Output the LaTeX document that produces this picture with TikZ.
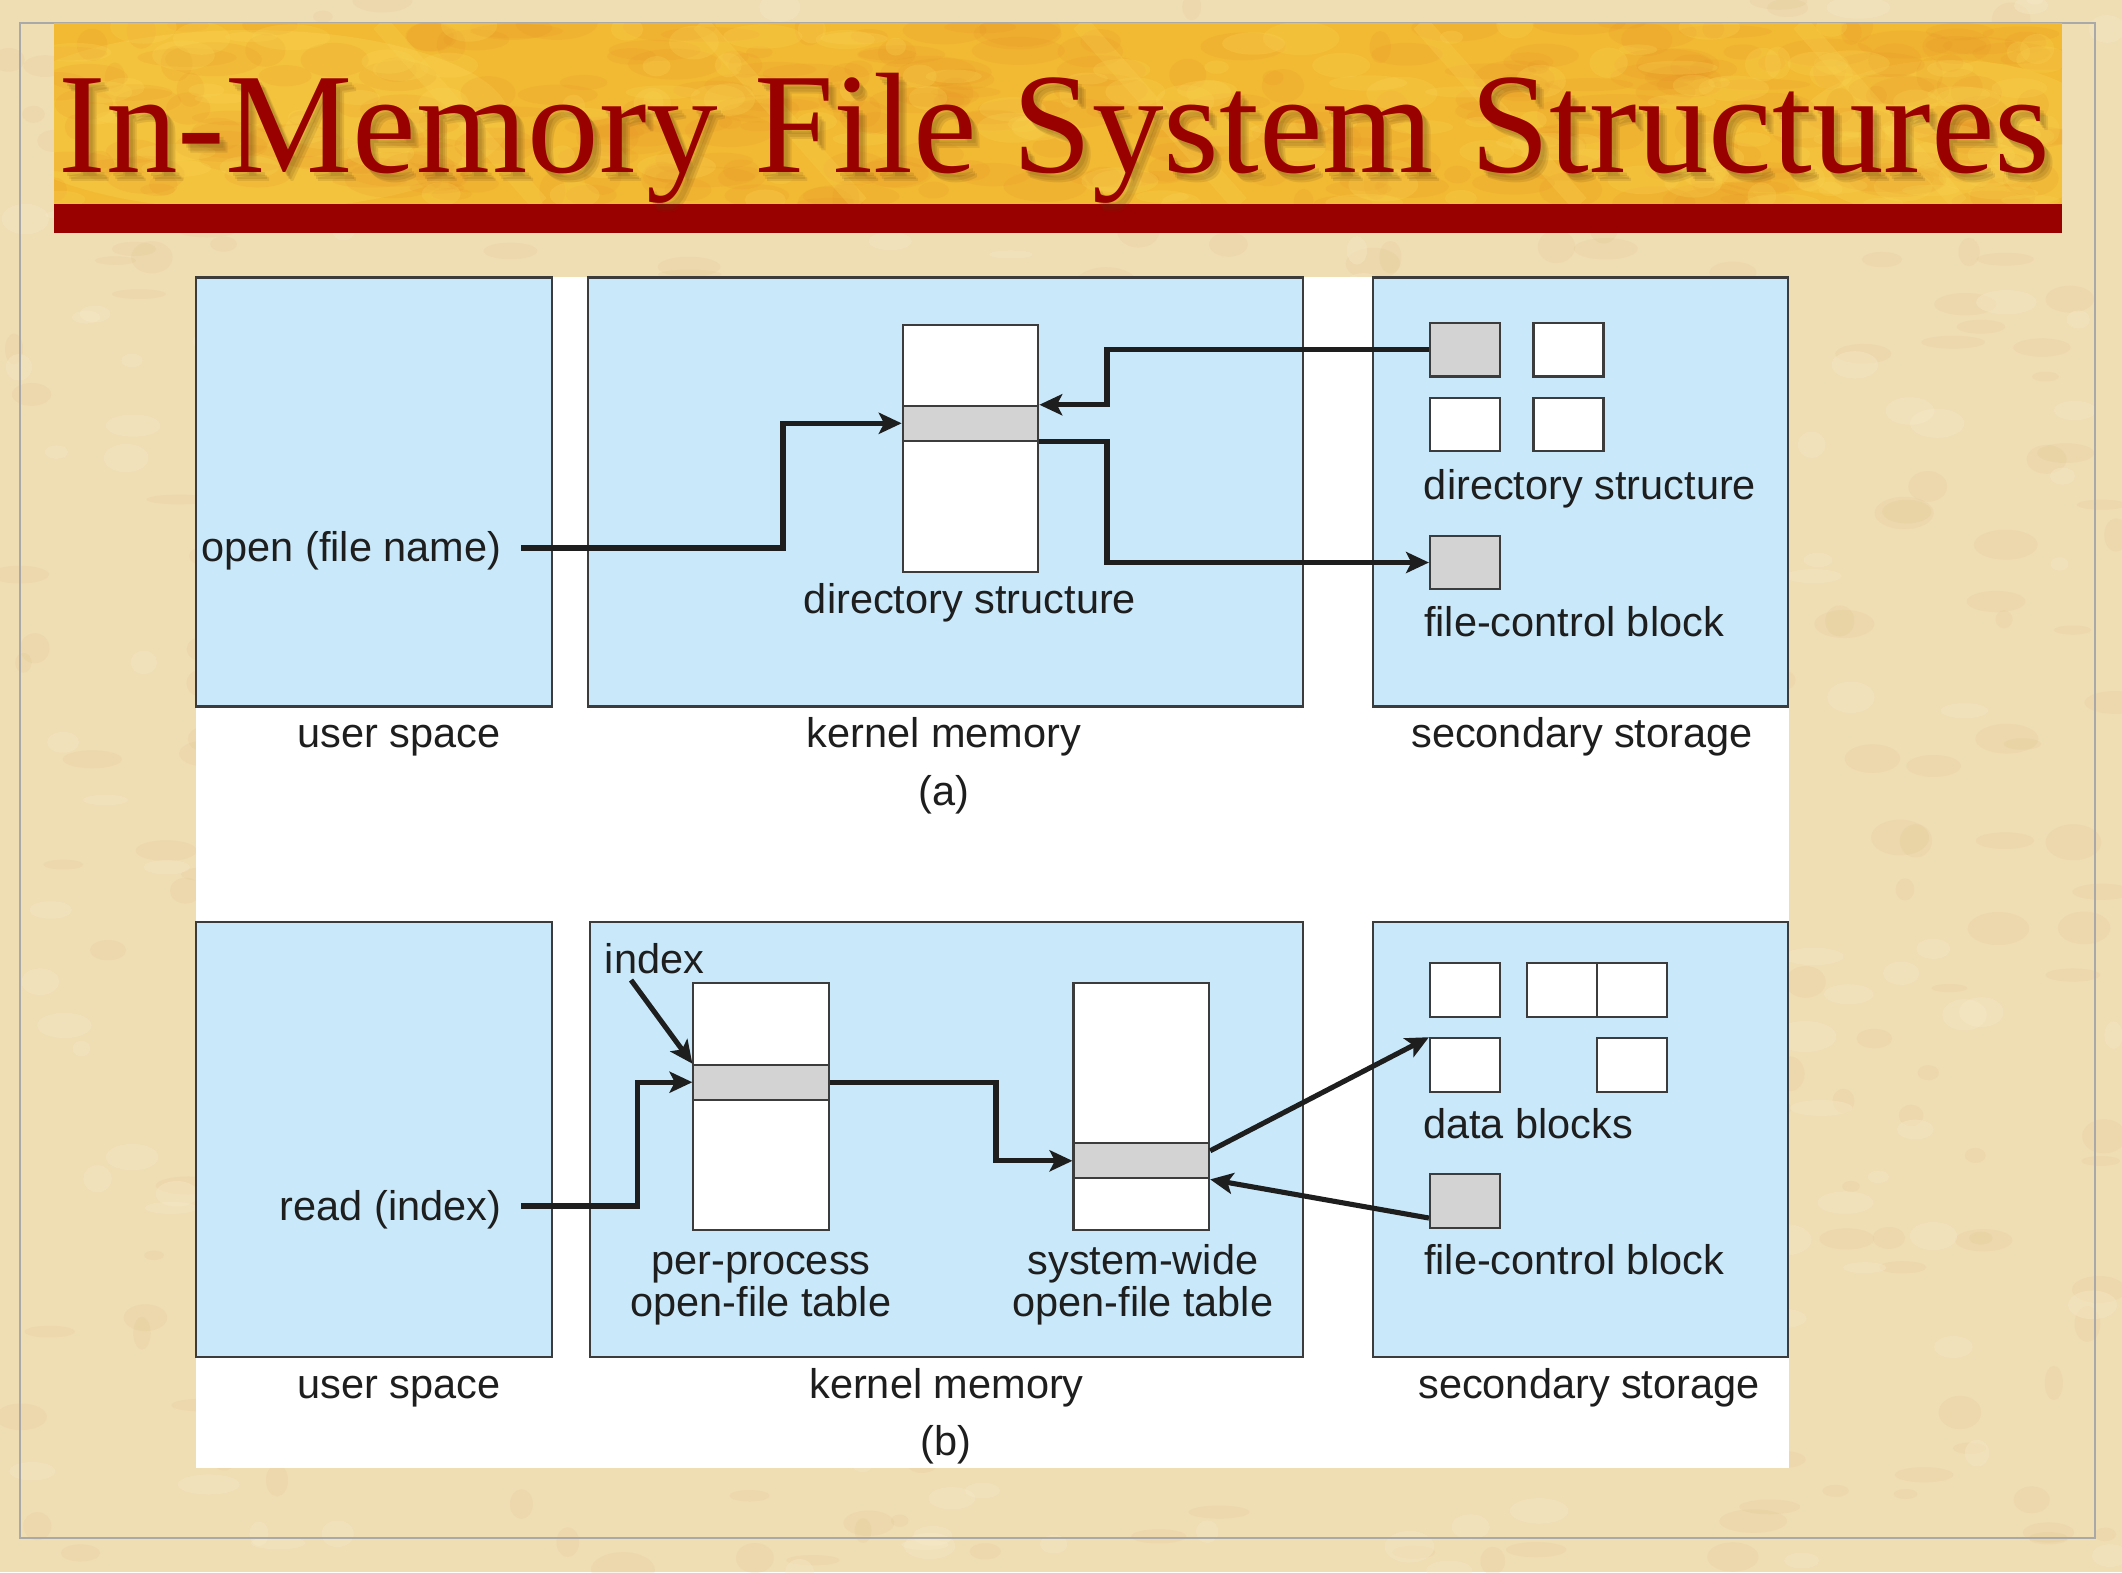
\documentclass[tikz,border=0pt]{standalone}
\usepackage{fontspec}
\setmainfont{Liberation Serif}
\newfontfamily\labelfont{Liberation Sans}
\usetikzlibrary{arrows.meta}

\definecolor{parchment}{HTML}{EFDDB3}
\definecolor{parchdark}{HTML}{DDC088}
\definecolor{parchlight}{HTML}{F7EBCB}
\definecolor{framegray}{HTML}{A9A9A9}
\definecolor{goldbase}{HTML}{F2BA33}
\definecolor{goldlight}{HTML}{F8D452}
\definecolor{goldorange}{HTML}{E58E25}
\definecolor{titlered}{HTML}{990000}
\definecolor{shadowbrown}{HTML}{5A3A10}
\definecolor{panelblue}{HTML}{C9E9FA}
\definecolor{bandgray}{HTML}{D3D3D3}
\definecolor{edgegray}{HTML}{3C3C3C}
\definecolor{ink}{HTML}{1E1E1E}

\tikzset{
  panel/.style={fill=panelblue, draw=edgegray, line width=0.7pt},
  column/.style={draw=edgegray, fill=white, line width=0.6pt, inner sep=0pt,
                 minimum width=1.355cm, minimum height=2.47cm},
  band/.style={draw=edgegray, fill=bandgray, line width=0.6pt, inner sep=0pt,
               minimum width=1.355cm, minimum height=0.35cm},
  blockw/.style={draw=edgegray, fill=white, line width=0.6pt, inner sep=0pt,
                 minimum width=0.70cm, minimum height=0.535cm},
  blockg/.style={blockw, fill=bandgray},
  lbl/.style={font=\labelfont\fontsize{11.8}{14}\selectfont, text=ink, inner sep=0pt},
  arr/.style={draw=ink, line width=1.45pt,
              -{Stealth[length=6.5pt, width=6pt, inset=1.5pt]}},
  titletext/.style={font=\fontsize{40.7}{48}\selectfont, inner sep=0pt, anchor=base west},
}

\begin{document}
\begin{tikzpicture}[x=0.01cm, y=-0.01cm]
\useasboundingbox (0,0) rectangle (2122,1572);

% parchment page with a fine mottled grain
\fill[parchment] (0,0) rectangle (2122,1572);
\pgfmathsetseed{4711}
\foreach \k in {1,...,420}{
  \pgfmathsetmacro{\px}{rnd*2122}
  \pgfmathsetmacro{\py}{rnd*1572}
  \pgfmathsetmacro{\rx}{8+rnd*26}
  \pgfmathsetmacro{\ry}{4+rnd*14}
  \fill[parchdark, opacity=0.16] (\px,\py) ellipse [x radius=\rx, y radius=\ry];
}
\foreach \k in {1,...,260}{
  \pgfmathsetmacro{\px}{rnd*2122}
  \pgfmathsetmacro{\py}{rnd*1572}
  \pgfmathsetmacro{\rx}{8+rnd*24}
  \pgfmathsetmacro{\ry}{4+rnd*12}
  \fill[parchlight, opacity=0.35] (\px,\py) ellipse [x radius=\rx, y radius=\ry];
}
\draw[framegray, line width=0.8pt] (20,23) rectangle (2095,1538);

% title banner: gold mottled strip over a red rule
\fill[goldbase] (54,23) rectangle (2062,204);
\begin{scope}
  \clip (54,23) rectangle (2062,204);
  \fill[goldlight, opacity=0.35] (250,120) ellipse [x radius=260, y radius=90];
  \fill[goldlight, opacity=0.30] (1950,140) ellipse [x radius=160, y radius=80];
  \foreach \k in {1,...,300}{
    \pgfmathsetmacro{\px}{54+rnd*2008}
    \pgfmathsetmacro{\py}{23+rnd*181}
    \pgfmathsetmacro{\rx}{10+rnd*40}
    \pgfmathsetmacro{\ry}{5+rnd*14}
    \fill[goldorange, opacity=0.14] (\px,\py) ellipse [x radius=\rx, y radius=\ry];
  }
  \foreach \k in {1,...,160}{
    \pgfmathsetmacro{\px}{54+rnd*2008}
    \pgfmathsetmacro{\py}{23+rnd*181}
    \pgfmathsetmacro{\rx}{10+rnd*30}
    \pgfmathsetmacro{\ry}{5+rnd*12}
    \fill[goldlight, opacity=0.25] (\px,\py) ellipse [x radius=\rx, y radius=\ry];
  }
  \foreach \sx in {380, 700, 1080, 1420, 1800}
    \draw[goldlight, opacity=0.25, line width=5pt] (\sx,23) -- (\sx+160,204);
\end{scope}
\fill[titlered] (54,204) rectangle (2062,233);

% title with a soft drop shadow
\foreach \dx/\dy in {4/4, 6/7, 8/9}
  \node[titletext, text=shadowbrown, text opacity=0.13] at (58+\dx,172+\dy)
    {In-Memory File System Structures};
\node[titletext, text=titlered] (title) at (58,172) {In-Memory File System Structures};

% white sheet holding both figures
\fill[white] (196,277) rectangle (1789,1468);

% ---------- (a) open ----------
\path[panel] (196,277.5) rectangle (552,706.5);
\path[panel] (588,277.5) rectangle (1303,706.5);
\path[panel] (1373,277.5) rectangle (1788,706.5);

\node[column] (dirA) at (970.5,448.5) {};
\node[band] (bandA) at (970.5,423.3) {};

\node[blockg] (sqA1) at (1465,349.7) {};
\node[blockw] (sqA2) at (1568.5,349.7) {};
\node[blockw] (sqA3) at (1465,424.6) {};
\node[blockw] (sqA4) at (1568.5,424.6) {};
\node[blockg] (fcbA) at (1465,562.5) {};

\node[lbl, anchor=base east] (openA) at (502,561) {open (file name)};
\node[lbl, anchor=base] (dirAlbl) at (970,613) {directory structure};
\node[lbl, anchor=base] (dirSlbl) at (1590,499) {directory structure};
\node[lbl, anchor=base] (fcbAlbl) at (1574,636) {file-control block};
\node[lbl, anchor=base] (usrA) at (399,747) {user space};
\node[lbl, anchor=base] (kerA) at (944,747) {kernel memory};
\node[lbl, anchor=base] (secA) at (1582,747) {secondary storage};
\node[lbl, anchor=base] (capA) at (944,805) {(a)};

\coordinate (startA) at (521,548);
\coordinate (turnA1) at (783,480);
\coordinate (turnA2) at (1107,380);
\coordinate (turnA3) at (1107,500);
\draw[arr] (startA) -| (turnA1) |- (bandA.west);
\draw[arr] (sqA1.west) -| (turnA2) |- (bandA.north east);
\draw[arr] (bandA.south east) -| (turnA3) |- (fcbA.west);

% ---------- (b) read ----------
\path[panel] (196,922) rectangle (552,1357);
\path[panel] (590,922) rectangle (1303,1357);
\path[panel] (1373,922) rectangle (1788,1357);

\node[column] (ppt) at (761.2,1106.5) {};
\node[band] (pptBand) at (761.2,1082.2) {};
\node[column] (swt) at (1141.3,1106.5) {};
\node[band] (swtBand) at (1141.3,1160.8) {};

\node[blockw] (db1) at (1465,989.9) {};
\node[blockw] (db2) at (1562,989.9) {};
\node[blockw] (db3) at (1632,989.9) {};
\node[blockw] (db4) at (1465,1065) {};
\node[blockw] (db5) at (1632,1065) {};
\node[blockg] (fcbB) at (1465,1201) {};

\node[lbl, anchor=base] (idx) at (654.5,973.5) {index};
\node[lbl, anchor=base east] (readB) at (502,1220.5) {read (index)};
\node[lbl, anchor=base] (pptl1) at (761,1274) {per-process};
\node[lbl, anchor=base] (pptl2) at (761,1316) {open-file table};
\node[lbl, anchor=base] (swtl1) at (1143,1274) {system-wide};
\node[lbl, anchor=base] (swtl2) at (1143,1316) {open-file table};
\node[lbl, anchor=base] (dbl) at (1528,1138) {data blocks};
\node[lbl, anchor=base] (fcbBlbl) at (1574,1274) {file-control block};
\node[lbl, anchor=base] (usrB) at (399,1398.5) {user space};
\node[lbl, anchor=base] (kerB) at (946.5,1398.5) {kernel memory};
\node[lbl, anchor=base] (secB) at (1589,1398.5) {secondary storage};
\node[lbl, anchor=base] (capB) at (946,1455) {(b)};

\coordinate (startB) at (521,1206);
\coordinate (idxTail) at (631,980);
\coordinate (turnB1) at (637.6,1150);
\coordinate (turnB3) at (996,1120);
\draw[arr] (startB) -| (turnB1) |- (pptBand.west);
\draw[arr] (idxTail) -- (pptBand.north west);
\draw[arr] (pptBand.east) -| (turnB3) |- (swtBand.west);
\draw[arr] ([yshift=0.1cm]swtBand.east) -- (db4.north west);
\draw[arr] ([yshift=-0.17cm]fcbB.west) -- (swtBand.south east);

\end{tikzpicture}
\end{document}
